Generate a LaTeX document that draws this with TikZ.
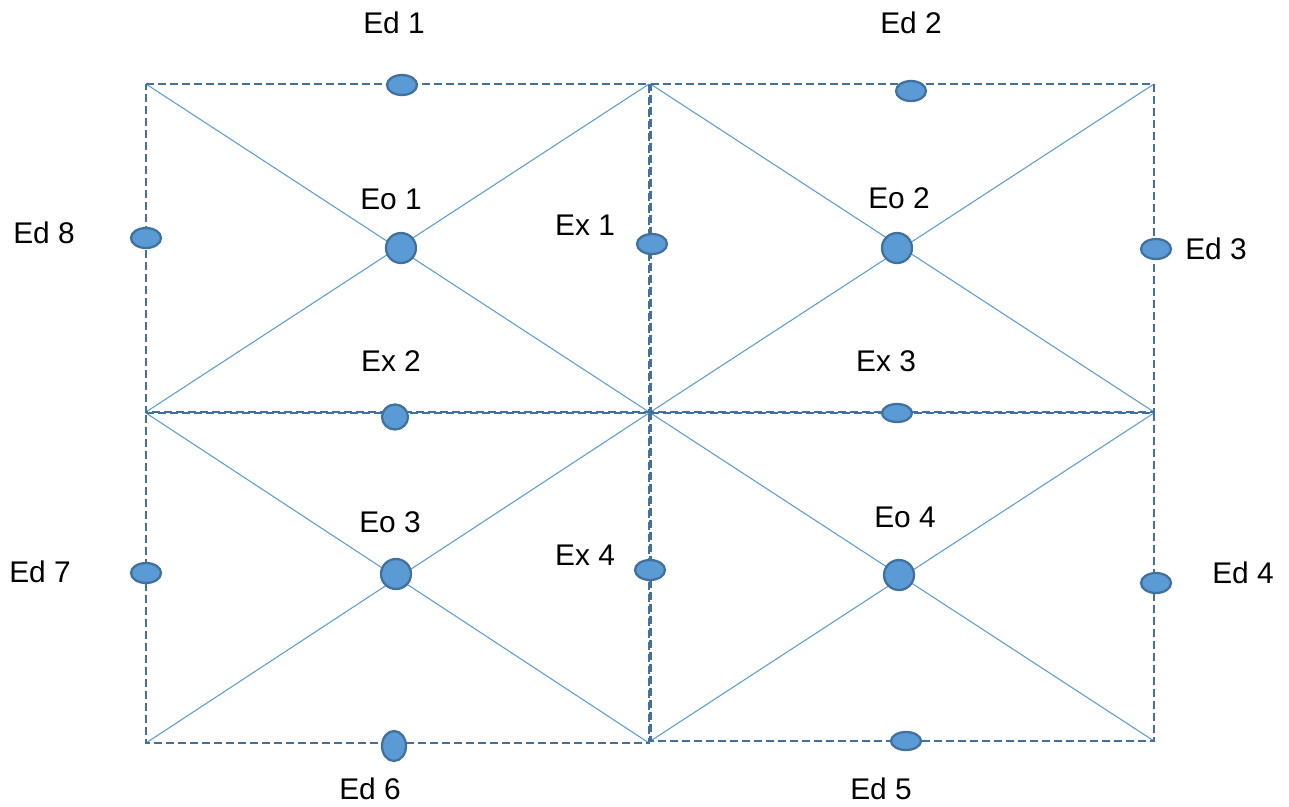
\documentclass[tikz,border=0pt]{standalone}
\usepackage{fontspec}
\setmainfont{Liberation Sans}
\usetikzlibrary{shapes.geometric}
\definecolor{dotfill}{HTML}{5B9BD5}
\definecolor{dotline}{HTML}{41719C}
\tikzset{
  gridedge/.style={draw=dotline, line width=1.4pt, dash pattern=on 0.16cm off 0.08cm},
  gridline/.style={draw=dotfill, line width=0.6pt},
  edot/.style={ellipse, draw=dotline, fill=dotfill, line width=1.3pt, inner sep=0pt,
    minimum width=0.6cm, minimum height=0.4cm},
  odot/.style={edot, minimum width=0.6cm, minimum height=0.6cm},
  elabel/.style={font=\fontsize{17}{20}\selectfont, inner sep=0pt},
}

\begin{document}
\begin{tikzpicture}[x=0.02cm, y=-0.02cm]
  \useasboundingbox (0,0) rectangle (1289,806);
  % corners of the four cells
  \coordinate (tl1) at (146,84);  \coordinate (tr1) at (649,84);
  \coordinate (bl1) at (146,412); \coordinate (br1) at (649,412);
  \coordinate (tl2) at (650.5,84);  \coordinate (tr2) at (1154,84);
  \coordinate (bl2) at (650.5,412); \coordinate (br2) at (1154,412);
  \coordinate (tl3) at (146,413); \coordinate (tr3) at (649,413);
  \coordinate (bl3) at (146,743); \coordinate (br3) at (649,743);
  \coordinate (tl4) at (650.5,413); \coordinate (tr4) at (1154,413);
  \coordinate (bl4) at (650.5,741); \coordinate (br4) at (1154,741);
  % diagonals
  \foreach \c in {1,2,3,4} {
    \draw[gridline] (tl\c) -- (br\c);
    \draw[gridline] (bl\c) -- (tr\c);
  }
  % cell borders
  \foreach \c in {1,2,3,4}
    \draw[gridedge] (tl\c) -- (tr\c) -- (br\c) -- (bl\c) -- cycle;
  % dots
  \node[edot] (ed1) at (402,85) {};
  \node[edot] (ed2) at (911,91) {};
  \node[edot] (ed8) at (146,238) {};
  \node[edot] (ed3) at (1156,249) {};
  \node[edot] (ed7) at (146,573) {};
  \node[edot] (ed4) at (1156,583) {};
  \node[edot, minimum width=0.48cm, minimum height=0.6cm] (ed6) at (394,746) {};
  \node[edot, minimum height=0.36cm] (ed5) at (906,741) {};
  \node[edot] (ex1) at (652,244) {};
  \node[edot, minimum width=0.52cm, minimum height=0.5cm] (ex2) at (395,417) {};
  \node[edot, minimum height=0.36cm] (ex3) at (897,413) {};
  \node[edot] (ex4) at (650,570) {};
  \node[odot] (eo1) at (401,248) {};
  \node[odot] (eo2) at (897,248) {};
  \node[odot] (eo3) at (396,574) {};
  \node[odot] (eo4) at (899,575) {};
  % labels
  \node[elabel] (led1) at (394,23) {Ed 1};
  \node[elabel] (led2) at (911,23) {Ed 2};
  \node[elabel] (led8) at (44,233) {Ed 8};
  \node[elabel] (led3) at (1216,249) {Ed 3};
  \node[elabel] (led7) at (40,572) {Ed 7};
  \node[elabel] (led4) at (1243,573) {Ed 4};
  \node[elabel] (led6) at (370,789) {Ed 6};
  \node[elabel] (led5) at (881,789) {Ed 5};
  \node[elabel] (lex1) at (585,225) {Ex 1};
  \node[elabel] (lex2) at (391,361) {Ex 2};
  \node[elabel] (lex3) at (886,361) {Ex 3};
  \node[elabel] (lex4) at (585,555) {Ex 4};
  \node[elabel] (leo1) at (391,199) {Eo 1};
  \node[elabel] (leo2) at (899,198) {Eo 2};
  \node[elabel] (leo3) at (390,522) {Eo 3};
  \node[elabel] (leo4) at (905,517) {Eo 4};
\end{tikzpicture}
\end{document}
